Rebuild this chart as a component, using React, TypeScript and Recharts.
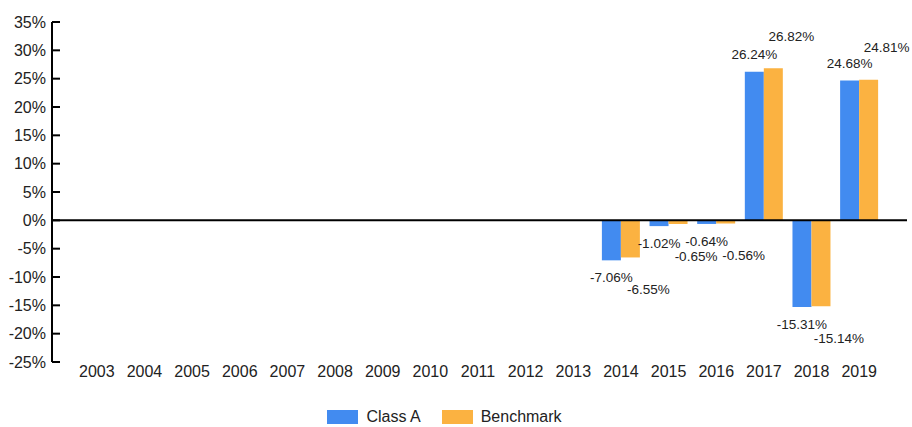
import React from 'react';
import { BarChart, Bar, XAxis, YAxis, ReferenceLine, LabelList, Legend } from 'recharts';

const YEARS = ['2003', '2004', '2005', '2006', '2007', '2008', '2009', '2010', '2011', '2012', '2013', '2014', '2015', '2016', '2017', '2018', '2019'];
const CLASS_A = [null, null, null, null, null, null, null, null, null, null, null, -7.06, -1.02, -0.64, 26.24, -15.31, 24.68];
const BENCHMARK = [null, null, null, null, null, null, null, null, null, null, null, -6.55, -0.65, -0.56, 26.82, -15.14, 24.81];
const Y_TICKS = [-25, -20, -15, -10, -5, 0, 5, 10, 15, 20, 25, 30, 35];

const SERIES = [
  { key: 'classA', name: 'Class A', color: '#428BF0' },
  { key: 'benchmark', name: 'Benchmark', color: '#FBB241' },
];

const data = YEARS.map((year, i) => ({ year, classA: CLASS_A[i], benchmark: BENCHMARK[i] }));

const YTick = ({ x, y, payload }: any) => (
  <g>
    <line x1={x} x2={x + 8} y1={y} y2={y} stroke="#000" strokeWidth={2} />
    <text x={x - 6} y={y} dy="0.355em" textAnchor="end" fontSize={16} fill="#222">
      {payload.value}%
    </text>
  </g>
);

// A labels sit right on the bar end, benchmark labels are pushed out and to the right
const makeLabel = (dx: number, off: number) => (props: any) => {
  const { x, y, width, height, value } = props;
  if (value === null || value === undefined) return null;
  const top = Math.min(y, y + height);
  const bottom = Math.max(y, y + height);
  const ty = value >= 0 ? top - off : bottom + off;
  return (
    <text x={x + width / 2 + dx} y={ty} dy="0.35em" textAnchor="middle" fontSize={13.5} fill="#222">
      {value.toFixed(2)}%
    </text>
  );
};

const renderLegend = () => (
  <div style={{ display: 'flex', justifyContent: 'center', alignItems: 'center', height: 18, fontSize: 16, color: '#222' }}>
    {SERIES.map(s => (
      <div key={s.key} style={{ display: 'flex', alignItems: 'center', margin: '0 10.5px' }}>
        <span style={{ display: 'inline-block', width: 31, height: 14, background: s.color, marginRight: 8 }} />
        <span>{s.name}</span>
      </div>
    ))}
  </div>
);

export default function App() {
  return (
    <div style={{ position: 'absolute', left: 0, top: 0, fontFamily: '"Liberation Sans", Arial, sans-serif' }}>
      <BarChart
        width={912}
        height={427}
        data={data}
        margin={{ top: 22, right: 5, left: 0, bottom: 17 }}
        barGap={0}
        barCategoryGap="10%"
      >
        <XAxis
          dataKey="year"
          axisLine={false}
          tickLine={false}
          tickSize={0}
          tickMargin={4}
          height={30}
          interval={0}
          padding={{ left: 21, right: 24 }}
          tick={{ fontSize: 16, fill: '#222' }}
        />
        <YAxis
          width={52}
          domain={[-25, 35]}
          ticks={Y_TICKS}
          interval={0}
          allowDataOverflow
          axisLine={{ stroke: '#000', strokeWidth: 2 }}
          tickLine={false}
          tickSize={0}
          tickMargin={0}
          tick={<YTick />}
        />
        <Legend verticalAlign="bottom" content={renderLegend} wrapperStyle={{ left: 0, width: 889, top: 408, bottom: 'auto' }} />
        <Bar dataKey="classA" name="Class A" fill={SERIES[0].color} isAnimationActive={false}>
          <LabelList dataKey="classA" content={makeLabel(0, 17)} />
        </Bar>
        <Bar dataKey="benchmark" name="Benchmark" fill={SERIES[1].color} isAnimationActive={false}>
          <LabelList dataKey="benchmark" content={makeLabel(18, 32)} />
        </Bar>
        <ReferenceLine y={0} stroke="#000" strokeWidth={2} />
      </BarChart>
    </div>
  );
}
